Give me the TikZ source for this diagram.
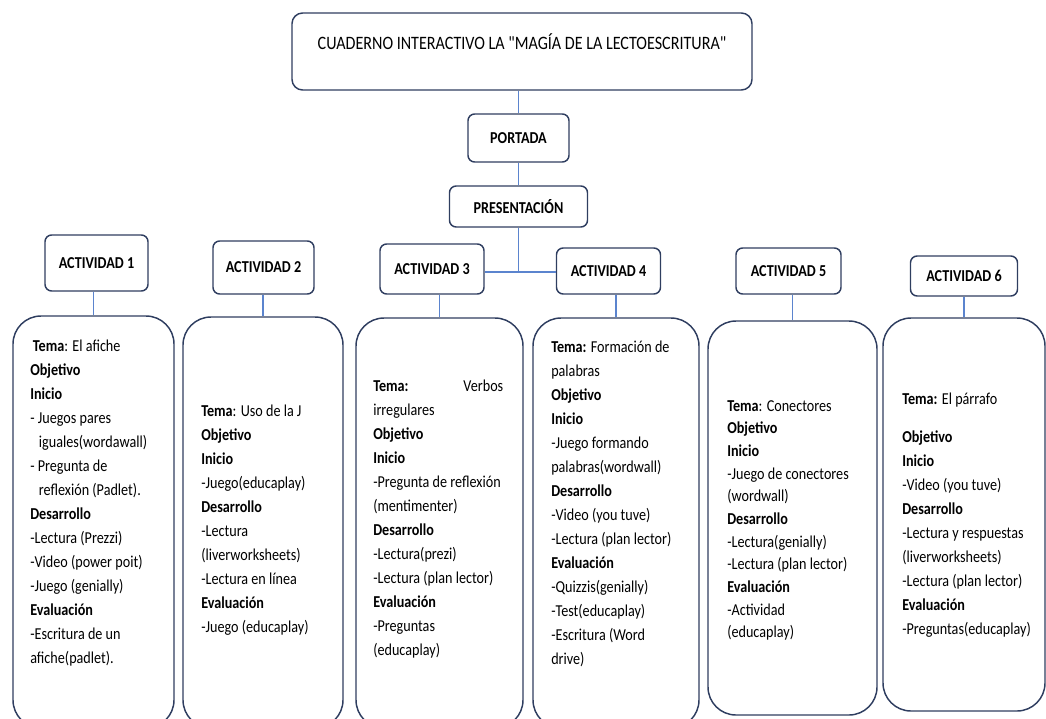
\documentclass[tikz,border=0pt]{standalone}
\usepackage{fontspec}
\setmainfont{Carlito}[FakeStretch=0.85]
\newfontfamily\titulofont{Carlito}[FakeStretch=0.85]
\usetikzlibrary{positioning}

\definecolor{borde}{RGB}{47,62,96}
\definecolor{linea}{RGB}{91,132,206}

\tikzset{
  titulo/.style={draw=borde, line width=1.1pt, rounded corners=8pt, inner sep=0pt,
    minimum width=345pt, minimum height=57.75pt, text height=27.4pt, text depth=30.35pt,
    font=\titulofont\fontsize{14.2}{17}\selectfont},
  etapa/.style 2 args={draw=borde, line width=1.1pt, rounded corners=5pt, inner sep=0pt,
    minimum width=#1, minimum height=#2, font=\fontsize{12.5}{15}\selectfont\bfseries},
  caja/.style 2 args={draw=borde, line width=1.1pt, rounded corners=21pt,
    minimum width=#1, minimum height=#2},
  texto/.style={anchor=north west, inner sep=0pt, align=left,
    font=\fontsize{12.5}{18}\selectfont},
  conector/.style={draw=linea, line width=0.8pt}
}

\begin{document}
\begin{tikzpicture}[x=0.75pt,y=0.75pt,yscale=-1,xscale=1]
\useasboundingbox (0,0) rectangle (1046,718);

%Shape: Rounded Rect [titulo]
\node [titulo] (titulo) at (522,51.5) {CUADERNO INTERACTIVO LA "MAGÍA DE LA LECTOESCRITURA"};
%Shape: Rounded Rect [portada]
\node [etapa={75.75pt}{36pt}] (portada) at (518.5,138) {PORTADA};
%Shape: Rounded Rect [presentacion]
\node [etapa={103.5pt}{30.75pt}] (presentacion) at (518.5,206.5) {PRESENTACIÓN};

%Shape: Rounded Rect [actividades]
\node [etapa={77.25pt}{42pt}] (act1) at (96.5,263) {ACTIVIDAD 1};
\node [etapa={75.75pt}{39.75pt}] (act2) at (263.5,267.5) {ACTIVIDAD 2};
\node [etapa={78pt}{37.5pt}] (act3) at (432,269) {ACTIVIDAD 3};
\node [etapa={78pt}{34.5pt}] (act4) at (608.5,271) {ACTIVIDAD 4};
\node [etapa={78.75pt}{34.5pt}] (act5) at (788.5,271) {ACTIVIDAD 5};
\node [etapa={80.25pt}{30pt}] (act6) at (964,276) {ACTIVIDAD 6};

%Shape: Rounded Rect [cajas]
\node [caja={120.75pt}{309pt}] (caja1) at (93.5,522) {};
\node [caja={120pt}{308.25pt}] (caja2) at (263,522.5) {};
\node [caja={125.25pt}{307.5pt}] (caja3) at (439.5,523) {};
\node [caja={124.5pt}{307.5pt}] (caja4) at (616,523) {};
\node [caja={126.75pt}{295.5pt}] (caja5) at (792.5,518) {};
\node [caja={121.5pt}{294.75pt}] (caja6) at (964,514.5) {};

%Straight Lines
\coordinate (union) at (518.5,272);
\draw [conector] (titulo.south -| portada.north) -- (portada.north);
\draw [conector] (portada.south) -- (presentacion.north);
\draw [conector] (presentacion.south) -- (union);
\draw [conector] (union -| act3.east) -- (union -| act4.west);
\foreach \i in {1,...,6}
  \draw [conector] (act\i.south -| caja\i.north) -- (caja\i.north);

% Text Node
\node [texto] (texto1) at (30,340) {\hspace*{2pt}\textbf{Tema}: El afiche\\
\textbf{Objetivo}\\
\textbf{Inicio}\\
- Juegos pares\\
\hspace*{6.5pt}iguales(wordawall)\\
- Pregunta de\\
\hspace*{6.5pt}reflexión (Padlet).\\
\textbf{Desarrollo}\\
-Lectura (Prezzi)\\
-Video (power poit)\\
-Juego (genially)\\
\textbf{Evaluación}\\
-Escritura de un\\
afiche(padlet).};
% Text Node
\node [texto] (texto2) at (201,405) {\textbf{Tema}: Uso de la J\\
\textbf{Objetivo}\\
\textbf{Inicio}\\
-Juego(educaplay)\\
\textbf{Desarrollo}\\
-Lectura\\
(liverworksheets)\\
-Lectura en línea\\
\textbf{Evaluación}\\
-Juego (educaplay)};
% Text Node
\node [texto] (texto3) at (373,380) {\makebox[97.5pt][l]{\textbf{Tema:}\hfill Verbos}\\
irregulares\\
\textbf{Objetivo}\\
\textbf{Inicio}\\
-Pregunta de reflexión\\
(mentimenter)\\
\textbf{Desarrollo}\\
-Lectura(prezi)\\
-Lectura (plan lector)\\
\textbf{Evaluación}\\
-Preguntas\\
(educaplay)};
% Text Node
\node [texto] (texto4) at (551,341) {\textbf{Tema:} Formación de\\
palabras\\
\textbf{Objetivo}\\
\textbf{Inicio}\\
-Juego formando\\
palabras(wordwall)\\
\textbf{Desarrollo}\\
-Video (you tuve)\\
-Lectura (plan lector)\\
\textbf{Evaluación}\\
-Quizzis(genially)\\
-Test(educaplay)\\
-Escritura (Word\\
drive)};
% Text Node
\node [texto, font=\fontsize{12.5}{17}\selectfont] (texto5) at (727,400) {\textbf{Tema}: Conectores\\
\textbf{Objetivo}\\
\textbf{Inicio}\\
-Juego de conectores\\
(wordwall)\\
\textbf{Desarrollo}\\
-Lectura(genially)\\
-Lectura (plan lector)\\
\textbf{Evaluación}\\
-Actividad\\
(educaplay)};
% Text Node
\node [texto] (texto6) at (902,393) {\textbf{Tema:} El párrafo\\[10pt]
\textbf{Objetivo}\\
\textbf{Inicio}\\
-Video (you tuve)\\
\textbf{Desarrollo}\\
-Lectura y respuestas\\
(liverworksheets)\\
-Lectura (plan lector)\\
\textbf{Evaluación}\\
-Preguntas(educaplay)};

\end{tikzpicture}
\end{document}
